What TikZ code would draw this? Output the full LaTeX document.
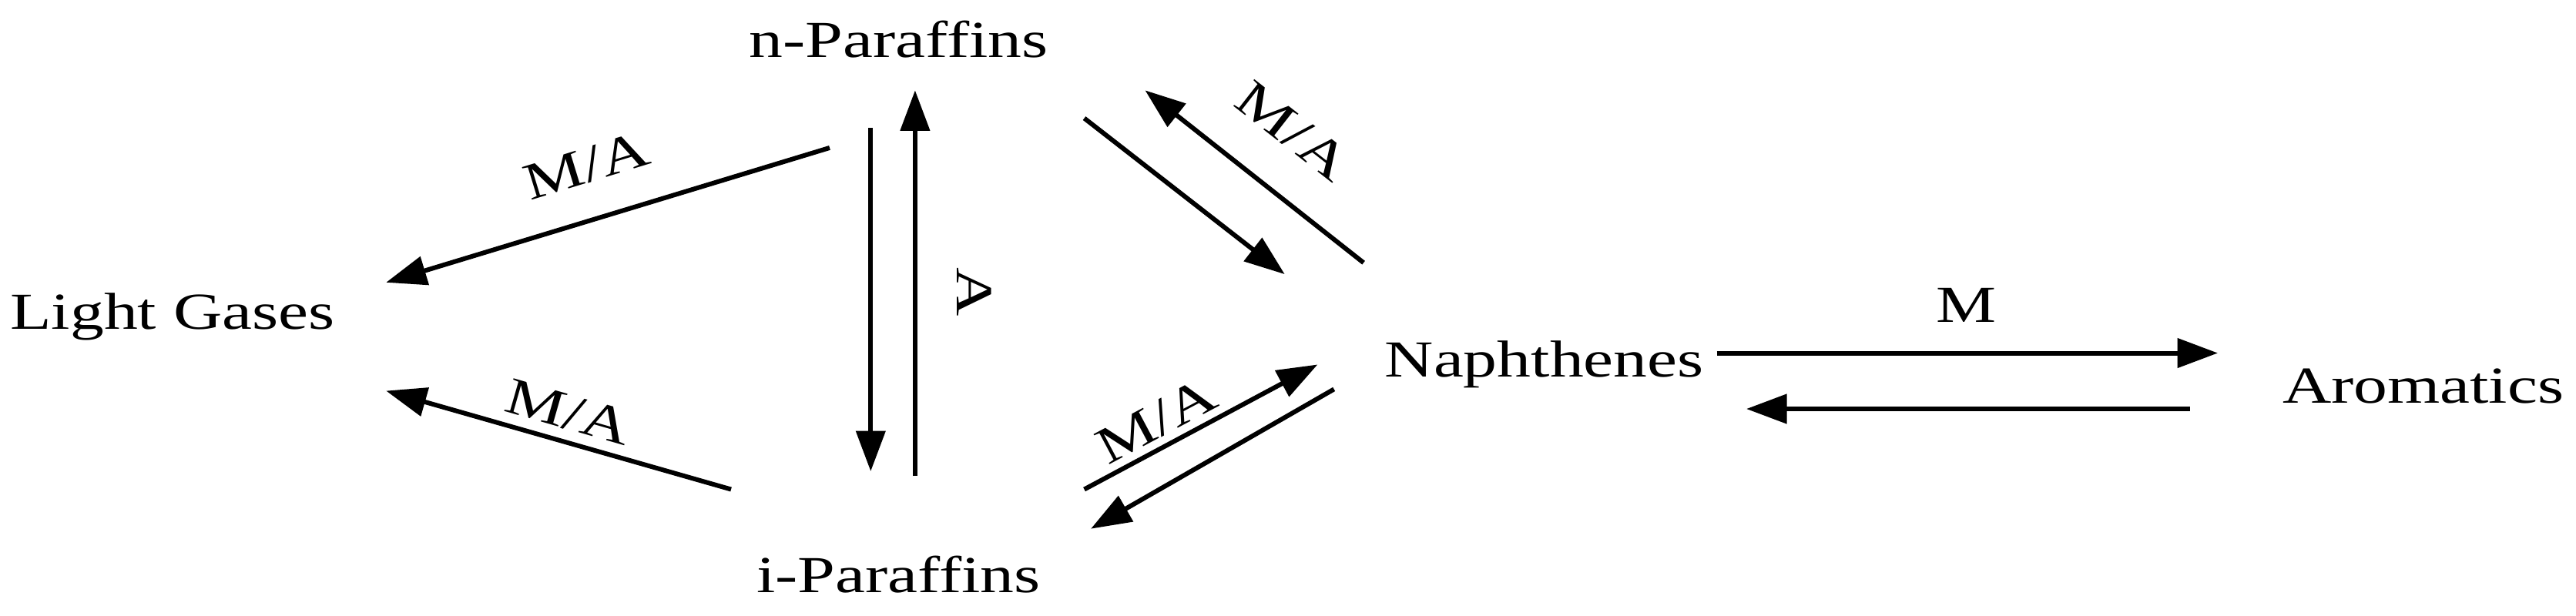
\documentclass[tikz,border=0pt]{standalone}
\usepackage{fontspec}
\setmainfont{Liberation Serif}
\usetikzlibrary{arrows.meta}
\begin{document}
\begin{tikzpicture}[x=0.02cm,y=-0.02cm,
  lbl/.style={font=\fontsize{18}{21}\selectfont, xscale=1.3, transform shape, inner sep=1pt},
  rl/.style={font=\fontsize{18}{21}\selectfont, inner sep=1pt},
  arr/.style={line width=1.6pt, -{Triangle[length=14pt,width=10pt]}}]
\useasboundingbox (0,0) rectangle (1568,375);
\node[lbl] (np) at (547,24) {n-Paraffins};
\node[lbl] (lg) at (105,193) {Light Gases};
\node[lbl] (na) at (940,222) {Naphthenes};
\node[lbl] (ar) at (1475,235) {Aromatics};
\node[lbl] (ip) at (547,350) {i-Paraffins};
\coordinate (a1s) at (505,90); \coordinate (a1e) at (235,172);
\coordinate (a2s) at (445,298); \coordinate (a2e) at (235,238);
\coordinate (a3s) at (530,78); \coordinate (a3e) at (530,287);
\coordinate (a4s) at (557,290); \coordinate (a4e) at (557,55);
\coordinate (a5s) at (660,72); \coordinate (a5e) at (782,167);
\coordinate (a6s) at (830,160); \coordinate (a6e) at (697,55);
\coordinate (a7s) at (660,298); \coordinate (a7e) at (802,222);
\coordinate (a8s) at (812,237); \coordinate (a8e) at (664,322);
\coordinate (a9s) at (1045,215); \coordinate (a9e) at (1350,215);
\coordinate (a10s) at (1333,249); \coordinate (a10e) at (1063,249);
\draw[arr] (a1s) -- (a1e);
\draw[arr] (a2s) -- (a2e);
\draw[arr] (a3s) -- (a3e);
\draw[arr] (a4s) -- (a4e);
\draw[arr] (a5s) -- (a5e);
\draw[arr] (a6s) -- (a6e);
\draw[arr] (a7s) -- (a7e);
\draw[arr] (a8s) -- (a8e);
\draw[arr] (a9s) -- (a9e);
\draw[arr] (a10s) -- (a10e);
\node[rl, rotate=17] (l1) at (357,101) {\scalebox{1.3}[1]{M/A}};
\node[rl, rotate=-16] (l2) at (346,251) {\scalebox{1.3}[1]{M/A}};
\node[rl, rotate=-90] (l3) at (593,178) {\scalebox{1.3}[1]{A}};
\node[rl, rotate=-38] (l4) at (787,80) {\scalebox{1.3}[1]{M/A}};
\node[rl, rotate=28] (l5) at (704,256) {\scalebox{1.3}[1]{M/A}};
\node[lbl] (l6) at (1197,186) {M};
\end{tikzpicture}
\end{document}
